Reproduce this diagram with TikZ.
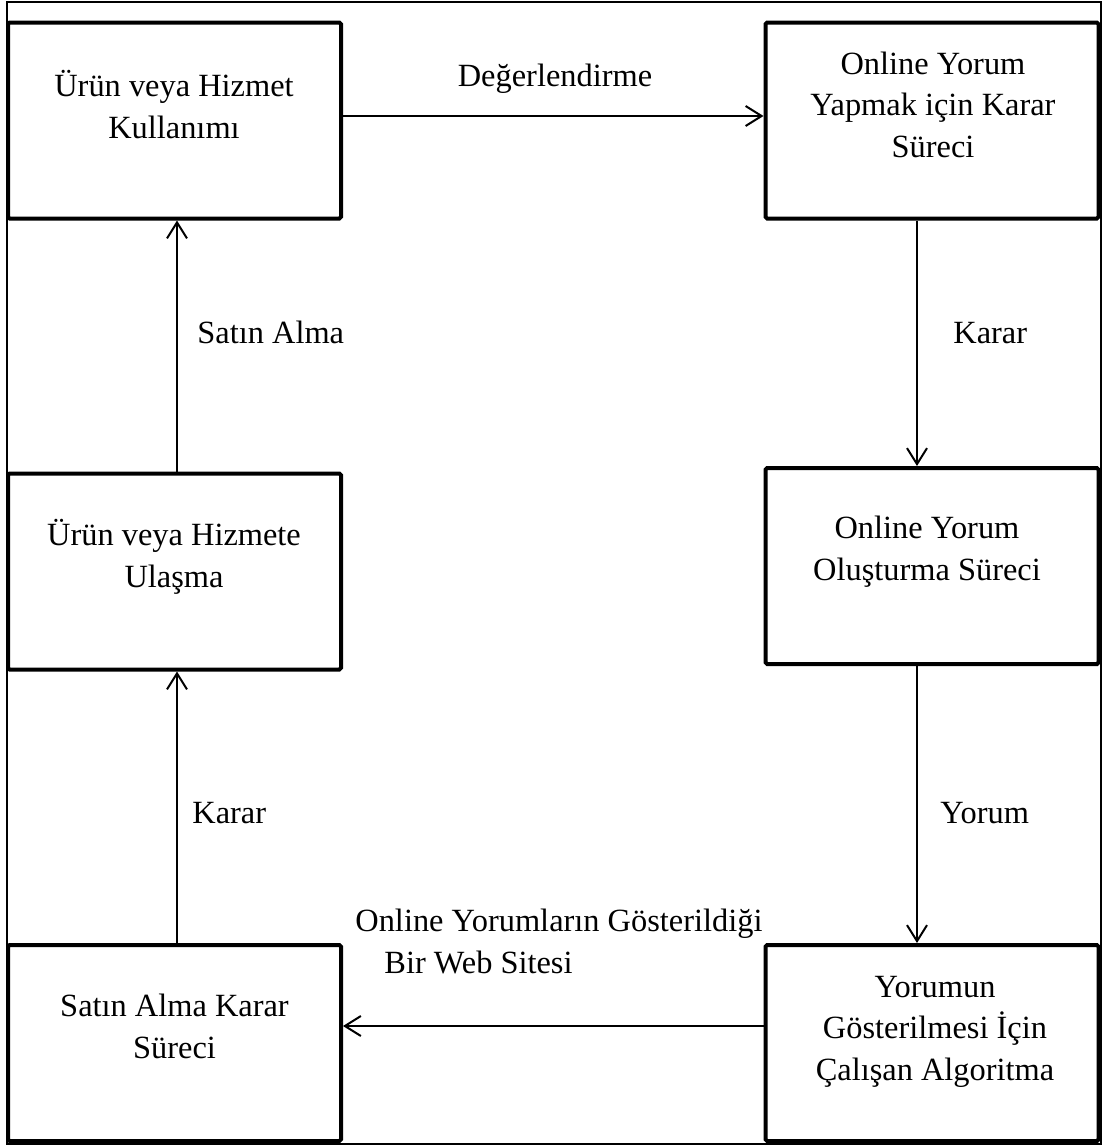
\documentclass[tikz,border=0pt]{standalone}
\usepackage{fontspec}
\setmainfont{Liberation Serif}
\usetikzlibrary{arrows.meta}

\begin{document}
\begin{tikzpicture}[x=0.5pt,y=-0.5pt,
    every node/.style={font=\fontsize{16.2}{20.75}\selectfont},
    box/.style={draw,line width=2pt,rounded corners=0.8pt,minimum width=166.5pt,minimum height=98pt,inner sep=0pt},
    txt/.style={align=center,anchor=base,inner sep=0pt},
    lbl/.style={anchor=base west,inner sep=0pt},
    arr/.style={line width=1pt,-{Straight Barb[length=8pt,width=10pt,line width=1pt]}}]
  \useasboundingbox (0,0) rectangle (1104,1146);
  \draw[line width=1pt] (7,2) rectangle (1101,1144);
  % kutular
  \node[box] (use) at (174.5,120.5) {};
  \node[box] (decide) at (932,120.5) {};
  \node[box] (reach) at (174.5,571.5) {};
  \node[box] (create) at (932,566) {};
  \node[box] (buy) at (174.5,1043) {};
  \node[box] (algo) at (932,1043) {};
  % kutu metinleri (son satirin taban cizgisi)
  \node[txt] (usetxt) at (174,138) {Ürün veya Hizmet\\Kullanımı};
  \node[txt] (decidetxt) at (933,157) {Online Yorum\\Yapmak için Karar\\Süreci};
  \node[txt] (reachtxt) at (174,587) {Ürün veya Hizmete\\Ulaşma};
  \node[txt] (createtxt) at (927,580) {Online Yorum\\Oluşturma Süreci};
  \node[txt] (buytxt) at (174.5,1058) {Satın Alma Karar\\Süreci};
  \node[txt] (algotxt) at (935,1080) {Yorumun\\Gösterilmesi İçin\\Çalışan Algoritma};
  % oklar
  \draw[arr] ([yshift=2.25pt]use.east) -- ([yshift=2.25pt]decide.west);
  \draw[arr] ([xshift=-7.5pt]decide.south) -- ([xshift=-7.5pt]create.north);
  \draw[arr] ([xshift=-7.5pt]create.south) -- ([xshift=-7.5pt]algo.north);
  \draw[arr] ([yshift=8.5pt]algo.west) -- ([yshift=8.5pt]buy.east);
  \draw[arr] ([xshift=1.25pt]buy.north) -- ([xshift=1.25pt]reach.south);
  \draw[arr] ([xshift=1.25pt]reach.north) -- ([xshift=1.25pt]use.south);
  % ok etiketleri
  \node[txt] (evallbl) at (555,86) {Değerlendirme};
  \node[lbl] (buylbl) at (197,343) {Satın Alma};
  \node[lbl] (declbl) at (953,343) {Karar};
  \node[lbl] (buydeclbl) at (192,823) {Karar};
  \node[lbl] (revlbl) at (940,823) {Yorum};
  \node[lbl,align=left] (weblbl) at (355,973) {Online Yorumların Gösterildiği\\\hspace*{14.5pt}Bir Web Sitesi};
\end{tikzpicture}
\end{document}
